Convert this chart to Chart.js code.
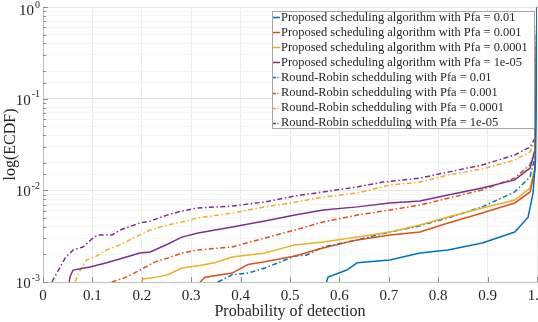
<!DOCTYPE html>
<html>
<head>
<meta charset="utf-8">
<script src="https://cdn.jsdelivr.net/npm/chart.js@4.4.1/dist/chart.umd.min.js"></script>
<style>
  html, body { margin: 0; padding: 0; background: #fff; }
  #wrap { width: 538px; height: 322px; position: relative; }
</style>
</head>
<body>
<div id="wrap"><canvas id="ecdf"></canvas></div>
<script>
// ECDF curves (x = Pd, y = ECDF)
const propX_1e2 = [0.574, 0.577, 0.615, 0.636, 0.702, 0.763, 0.82, 0.889, 0.955, 0.982, 0.992, 0.997, 1];
const propY_1e2 = [0.001, 0.00113, 0.00135, 0.00162, 0.00174, 0.00207, 0.00224, 0.00266, 0.00351, 0.0051, 0.0093, 0.0214, 1];

const propX_1e3 = [0.318, 0.328, 0.383, 0.415, 0.449, 0.51, 0.567, 0.636, 0.702, 0.763, 0.82, 0.889, 0.955, 0.986, 0.996, 1];
const propY_1e3 = [0.001, 0.00113, 0.00125, 0.00155, 0.00166, 0.00192, 0.00235, 0.00288, 0.00326, 0.00351, 0.0044, 0.00566, 0.00728, 0.0096, 0.0167, 1];

const propX_1e4 = [0.2, 0.203, 0.23, 0.253, 0.281, 0.314, 0.348, 0.383, 0.449, 0.51, 0.567, 0.636, 0.702, 0.763, 0.82, 0.889, 0.955, 0.986, 0.996, 1];
const propY_1e4 = [0.001, 0.00108, 0.00113, 0.0012, 0.00142, 0.0015, 0.00162, 0.00187, 0.00207, 0.00254, 0.00273, 0.00309, 0.00351, 0.00419, 0.00512, 0.0064, 0.00785, 0.0106, 0.018, 1];

const propX_1e5 = [0.053, 0.055, 0.061, 0.095, 0.129, 0.162, 0.196, 0.217, 0.253, 0.281, 0.314, 0.383, 0.449, 0.51, 0.567, 0.636, 0.702, 0.763, 0.82, 0.889, 0.955, 0.986, 0.996, 1];
const propY_1e5 = [0.001, 0.00115, 0.00135, 0.00146, 0.00162, 0.00183, 0.00207, 0.00213, 0.0026, 0.00309, 0.00343, 0.00398, 0.00463, 0.00537, 0.0061, 0.0066, 0.00728, 0.00766, 0.0089, 0.0106, 0.013, 0.0175, 0.0275, 1];

const rrX_1e2 = [0.354, 0.383, 0.415, 0.449, 0.51, 0.534, 0.567, 0.636, 0.702, 0.753, 0.82, 0.889, 0.955, 0.986, 0.996, 1];
const rrY_1e2 = [0.001, 0.0012, 0.00125, 0.00142, 0.00192, 0.00197, 0.00241, 0.00288, 0.00351, 0.00398, 0.005, 0.0066, 0.0096, 0.014, 0.0231, 1];

const rrX_1e3 = [0.139, 0.169, 0.196, 0.227, 0.253, 0.281, 0.314, 0.383, 0.449, 0.51, 0.567, 0.636, 0.702, 0.763, 0.82, 0.889, 0.955, 0.986, 0.996, 1];
const rrY_1e3 = [0.001, 0.00113, 0.00135, 0.00166, 0.00183, 0.00207, 0.00224, 0.00241, 0.00302, 0.00369, 0.00452, 0.00537, 0.0061, 0.0069, 0.0082, 0.0101, 0.0136, 0.019, 0.0275, 1];

const rrX_1e4 = [0.065, 0.075, 0.088, 0.105, 0.129, 0.156, 0.183, 0.217, 0.253, 0.281, 0.314, 0.383, 0.449, 0.51, 0.567, 0.636, 0.702, 0.763, 0.82, 0.889, 0.955, 0.986, 0.996, 1];
const rrY_1e4 = [0.001, 0.00135, 0.00174, 0.00187, 0.00224, 0.00254, 0.00302, 0.00369, 0.0042, 0.00452, 0.005, 0.00566, 0.0066, 0.0074, 0.00845, 0.00935, 0.0114, 0.0123, 0.0147, 0.0171, 0.0214, 0.0263, 0.0337, 1];

const rrX_1e5 = [0.018, 0.045, 0.061, 0.081, 0.101, 0.111, 0.14, 0.156, 0.196, 0.217, 0.253, 0.281, 0.314, 0.383, 0.449, 0.51, 0.567, 0.636, 0.688, 0.763, 0.82, 0.889, 0.955, 0.986, 0.996, 1];
const rrY_1e5 = [0.001, 0.00183, 0.00224, 0.00241, 0.00302, 0.00326, 0.00326, 0.00369, 0.0044, 0.00463, 0.0054, 0.00595, 0.00642, 0.00675, 0.00746, 0.00867, 0.0096, 0.0109, 0.0123, 0.0136, 0.0158, 0.0189, 0.0243, 0.0297, 0.0372, 1];

const seriesLabels = [
  'Proposed scheduling algorithm with Pfa = 0.01',
  'Proposed scheduling algorithm with Pfa = 0.001',
  'Proposed scheduling algorithm with Pfa = 0.0001',
  'Proposed scheduling algorithm with Pfa = 1e-05',
  'Round-Robin schedduling with Pfa = 0.01',
  'Round-Robin schedduling with Pfa = 0.001',
  'Round-Robin schedduling with Pfa = 0.0001',
  'Round-Robin schedduling with Pfa = 1e-05'
];
const yTickExps = [0, -1, -2, -3];

const FONT = '"Liberation Serif", "Times New Roman", serif';
const TXT = '#262626';
const colors = ['#0072BD', '#D95319', '#EDB120', '#7E2F8E'];
const DASHDOT = [5, 2.5, 1.5, 2.5];

function pts(xs, ys) {
  return xs.map((x, i) => ({ x: x, y: ys[i] }));
}

const curves = [
  [propX_1e2, propY_1e2], [propX_1e3, propY_1e3], [propX_1e4, propY_1e4], [propX_1e5, propY_1e5],
  [rrX_1e2, rrY_1e2], [rrX_1e3, rrY_1e3], [rrX_1e4, rrY_1e4], [rrX_1e5, rrY_1e5]
];

const datasets = curves.map((c, i) => ({
  label: seriesLabels[i],
  data: pts(c[0], c[1]),
  borderColor: colors[i % 4],
  borderWidth: 1.5,
  borderDash: i < 4 ? [] : DASHDOT,
  pointRadius: 0,
  tension: 0,
  fill: false
}));

function isDecade(v) {
  const l = Math.log10(v);
  return Math.abs(l - Math.round(l)) < 1e-9;
}

// inward tick marks, power-of-ten labels and the boxed legend
const decor = {
  id: 'decor',
  beforeDatasetsDraw(chart) {
    const c = chart.ctx, a = chart.chartArea;
    const xs = chart.scales.x, ys = chart.scales.y;
    c.save();
    c.strokeStyle = '#8c8c8c';
    c.lineWidth = 1;
    c.beginPath();
    ys.ticks.forEach(t => {
      const y = Math.round(ys.getPixelForValue(t.value)) + 0.5;
      const len = isDecade(t.value) ? 5 : 3;
      c.moveTo(a.left, y); c.lineTo(a.left + len, y);
    });
    xs.ticks.forEach(t => {
      const x = Math.round(xs.getPixelForValue(t.value)) + 0.5;
      c.moveTo(x, a.bottom); c.lineTo(x, a.bottom - 5);
    });
    c.stroke();
    c.restore();
  },
  afterDraw(chart) {
    const c = chart.ctx;
    const ys = chart.scales.y;
    c.save();
    c.fillStyle = TXT;
    c.textBaseline = 'middle';
    yTickExps.forEach(e => {
      let y = ys.getPixelForValue(Math.pow(10, e)) + 2;
      if (e === 0) y += 2;
      const right = 40;
      c.font = '10px ' + FONT;
      const sup = String(e);
      const sw = c.measureText(sup).width;
      c.textAlign = 'left';
      c.fillText(sup, right - sw, y - 6);
      c.font = '15px ' + FONT;
      c.textAlign = 'right';
      c.fillText('10', right - sw - 1, y);
    });

    // legend
    const lx = 272, ly = 11, lw = 262, lh = 117;
    c.fillStyle = '#fff';
    c.fillRect(lx, ly, lw, lh);
    c.strokeStyle = '#a6a6a6';
    c.lineWidth = 1;
    c.strokeRect(lx + 0.5, ly + 0.5, lw, lh);
    // size the legend font so the longest entry spans ~247px, as in the original
    c.font = '20px ' + FONT;
    const longest = Math.max(...seriesLabels.map(s => c.measureText(s).width));
    const fs = Math.min(14, 20 * 247 / longest);
    c.font = fs.toFixed(2) + 'px ' + FONT;
    c.textAlign = 'left';
    c.textBaseline = 'middle';
    chart.data.datasets.forEach((ds, i) => {
      const y = ly + 6 + 15.1 * i;
      c.strokeStyle = ds.borderColor;
      c.lineWidth = 1.5;
      c.setLineDash(ds.borderDash.length ? [3, 1.5, 1, 1.5] : []);
      c.beginPath();
      c.moveTo(lx + 1, Math.round(y) + 0.5);
      c.lineTo(lx + 8, Math.round(y) + 0.5);
      c.stroke();
      c.setLineDash([]);
      c.fillStyle = TXT;
      c.fillText(ds.label, lx + 9, y + 0.5);
    });
    c.restore();
  }
};

const chart = new Chart(document.getElementById('ecdf').getContext('2d'), {
  type: 'line',
  data: { datasets: datasets },
  plugins: [decor],
  options: {
    responsive: true,
    maintainAspectRatio: false,
    animation: false,
    events: [],
    layout: { padding: { top: 7, right: 1, left: 0, bottom: 0 } },
    plugins: { legend: { display: false }, tooltip: { enabled: false } },
    scales: {
      x: {
        type: 'linear',
        min: 0,
        max: 1,
        afterFit: s => { s.height = 40; s.paddingLeft = 0; s.paddingRight = 0; },
        grid: { color: '#ebebeb', drawTicks: false },
        border: { color: '#c0c0c0' },
        ticks: {
          stepSize: 0.1,
          padding: 5,
          color: TXT,
          font: { family: FONT, size: 15 },
          maxRotation: 0
        },
        title: {
          display: true,
          text: 'Probability of detection',
          color: TXT,
          font: { family: FONT, size: 16 },
          padding: { top: 0, bottom: 1 }
        }
      },
      y: {
        type: 'logarithmic',
        min: 0.001,
        max: 1,
        afterFit: s => { s.width = 43; s.paddingTop = 0; s.paddingBottom = 0; },
        grid: {
          drawTicks: false,
          color: ctx => (ctx.tick && isDecade(ctx.tick.value)) ? '#e6e6e6' : '#f4f4f4'
        },
        border: { color: '#c0c0c0' },
        ticks: { display: false },
        title: {
          display: true,
          text: 'log(ECDF)',
          color: TXT,
          font: { family: FONT, size: 16 },
          padding: { top: 1, bottom: 0 }
        }
      }
    }
  }
});
</script>
</body>
</html>
